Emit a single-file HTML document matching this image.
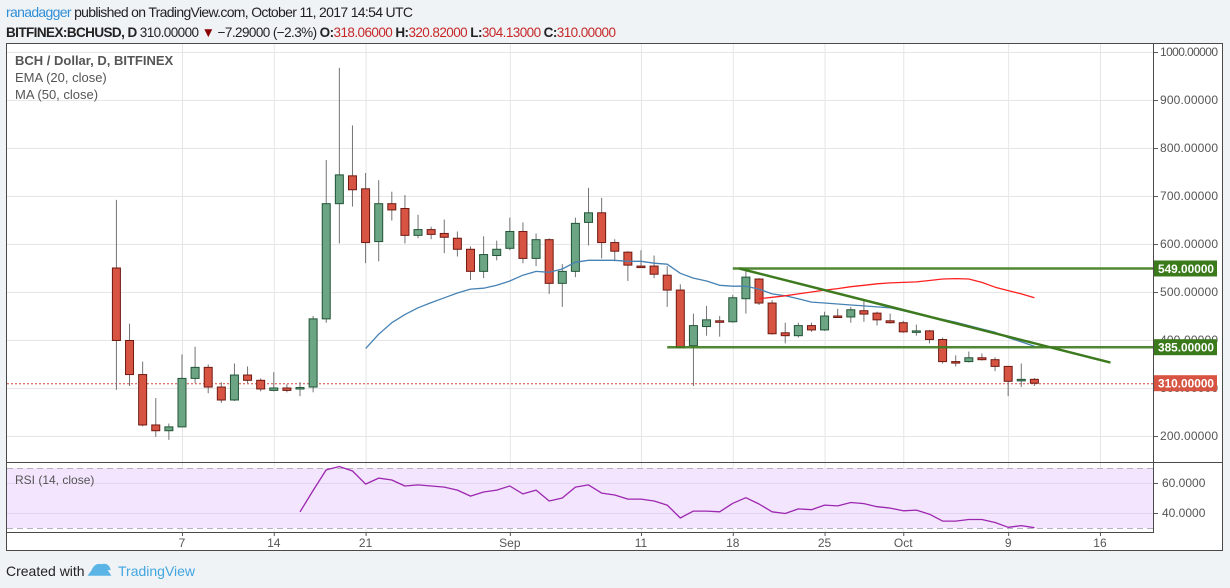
<!DOCTYPE html>
<html><head><meta charset="utf-8"><style>
html,body{margin:0;padding:0;background:#f0f3f6;width:1230px;height:588px;overflow:hidden}
svg text{font-family:"Liberation Sans",sans-serif}
</style></head><body>
<svg id="c" width="1230" height="588" xmlns="http://www.w3.org/2000/svg">
<rect x="0" y="0" width="1230" height="588" fill="#f0f3f6"/>
<text x="6" y="17" font-size="14" fill="#222" textLength="407"><tspan fill="#2f8fd8">ranadagger</tspan> published on TradingView.com, October 11, 2017 14:54 UTC</text>
<text x="6" y="37" font-size="13.5" fill="#222" textLength="610"><tspan font-weight="bold">BITFINEX:BCHUSD, D</tspan> 310.00000 <tspan fill="#8b0000">▼</tspan> −7.29000 (−2.3%) <tspan font-weight="bold">O:</tspan><tspan fill="#c62828">318.06000</tspan> <tspan font-weight="bold">H:</tspan><tspan fill="#c62828">320.82000</tspan> <tspan font-weight="bold">L:</tspan><tspan fill="#c62828">304.13000</tspan> <tspan font-weight="bold">C:</tspan><tspan fill="#c62828">310.00000</tspan></text>
<rect x="6.5" y="43.5" width="1216" height="507" fill="#fff" stroke="#4a4a4a"/>
<g id="grid"></g>
<rect x="7" y="468" width="1146" height="60" fill="#f3e5fd"/>
<g id="gridr"></g>
<g id="marks"></g>
<line x1="6" y1="462.5" x2="1223" y2="462.5" stroke="#4a4a4a"/>
<line x1="6" y1="532.5" x2="1153" y2="532.5" stroke="#4a4a4a"/>
<line x1="1153.5" y1="43" x2="1153.5" y2="533" stroke="#4a4a4a"/>
<g id="axes"></g>
<text x="15" y="65" font-size="13" fill="#555" font-weight="bold">BCH / Dollar, D, BITFINEX</text>
<text x="15" y="82" font-size="13" fill="#555">EMA (20, close)</text>
<text x="15" y="99" font-size="13" fill="#555">MA (50, close)</text>
<text x="15" y="484" font-size="12" fill="#555">RSI (14, close)</text>
<text x="6" y="576" font-size="14" fill="#222">Created with</text>
<path d="M89 575 L95 567 L100 572 L104 566 L110 575 Z M92 571 Q95 563 102 565 Q108 563 110 570" fill="#5ab4e5" stroke="#5ab4e5" stroke-width="1.5"/>
<text x="118" y="576" font-size="14" fill="#41a5e0">TradingView</text>
</svg>
<script>
const opens=[550,399,328,223,211,219,320,343,302,275,327,316,295,300,300,302,444,684,742,715,605,684,674,618,630,622,612,589,543,576,591,626,570,609,518,543,645,665,603,583,554,554,535,504,388,428,440,438,486,527,477,415,409,430,421,450,448,461,456,440,436,417,419,401,355,355,363,359,345,316,318.06];
const highs=[692,434,355,279,226,370,386,349,312,351,345,320,333,308,312,450,775,967,847,748,733,709,702,661,636,651,626,595,616,607,655,645,622,612,558,655,717,696,610,585,587,576,554,516,455,471,450,494,548,529,483,436,436,436,459,465,469,481,459,455,440,432,421,405,368,376,372,364,345,351,320.82];
const lows=[296,304,220,198,192,219,310,289,269,273,310,293,293,291,283,291,436,601,678,560,564,649,601,612,610,581,574,525,529,566,587,560,554,496,469,531,597,570,564,523,550,529,469,384,304,409,407,436,455,473,411,393,405,417,419,448,436,438,430,434,415,409,393,351,345,353,357,335,283,302,304.13];
const closes=[399,328,223,211,219,320,343,302,275,327,316,298,300,295,301,444,684,744,713,603,684,671,618,630,620,614,589,543,578,589,626,570,609,518,543,643,665,603,585,556,552,537,504,384,430,442,438,488,531,477,413,409,430,421,450,448,463,454,442,436,417,419,401,355,353,363,359,345,314,318,310];
const candleStartDay=1;
const ema20=[382,412,436,453,467,478,488,498,506,508,514,523,535,543,541,548,562,566,566,566,564,564,560,558,539,529,523,514,512,512,506,496,492,486,479,477,475,473,471,469,467,461,455,449,443,437,430,423,416,405,396,387];
const emaStartDay=20;
const ma50=[486,489,492,496,500,504,507,511,514,517,519,520,521,524,527,528,527,520,510,503,496,488];
const maStartDay=50;
const rsi=[40.7,55,68.7,71,68,59.3,63.3,62,58,58.7,58,57.3,55.3,51.3,54,55.3,58,52.7,55.3,48,50,57.3,58.7,53.3,52,49.3,49.3,48,45.3,36.7,41.3,41.3,40.8,46.5,50.2,46,40.8,39.7,42.7,42.2,45.3,44.7,47,46.3,44.2,43.3,41.5,41.9,39.2,34.6,34.6,35.7,35.7,33.7,30.5,31.6,30.2];
const rsiStartDay=15;
const priceTicks=[1000,900,800,700,600,500,400,300,200];
const rsiTicks=[60,40];
const timeTickDays=[6,13,20,31,41,48,55,61,69,76];
const timeTickLabels=["7","14","21","Sep","11","18","25","Oct","9","16"];
const supportLevels=[549,385];
const supportStartDays=[48,43];
const trendStart=[48.5,549];
const trendEnd=[76.8,353];
const lastPrice=310;

const NS="http://www.w3.org/2000/svg";
const X=d=>103.3+13.114*d;
const Y=p=>52+(1000-p)*0.48;
const R=v=>483-(v-60)*1.5;
function mk(tag,attrs,parent){const e=document.createElementNS(NS,tag);for(const k in attrs)e.setAttribute(k,attrs[k]);parent.appendChild(e);return e;}
const grid=document.getElementById('grid'),gridr=document.getElementById('gridr'),marks=document.getElementById('marks'),axes=document.getElementById('axes');

priceTicks.forEach(p=>{
  const l=mk('line',{x1:7,x2:1153,y1:Y(p)+0.5,y2:Y(p)+0.5,stroke:'#e6e6e6'},grid);
  
  
  const t=mk('line',{x1:1153,x2:1158,y1:Y(p)+0.5,y2:Y(p)+0.5,stroke:'#555'},axes);
  
  
  const tx=mk('text',{x:1160,y:Y(p)+4,'font-size':12,fill:'#555',textLength:58},axes);tx.textContent=p.toFixed(5);
  
  
});
timeTickDays.forEach((d,i)=>{
  const l=mk('line',{x1:X(d)+0.5,x2:X(d)+0.5,y1:44,y2:532,stroke:'#e6e6e6'},grid);
  
  
  const t=mk('line',{x1:X(d)+0.5,x2:X(d)+0.5,y1:532,y2:536,stroke:'#555'},axes);
  
  
  const tx=mk('text',{x:X(d),y:547,'font-size':12,fill:'#555','text-anchor':'middle'},axes);tx.textContent=timeTickLabels[i];
  
  
});
rsiTicks.forEach(v=>{
  const l=mk('line',{x1:7,x2:1153,y1:R(v)+0.5,y2:R(v)+0.5,stroke:'#e2d3ee'},gridr);
  
  
  const tx=mk('text',{x:1162,y:R(v)+4,'font-size':12,fill:'#555'},axes);tx.textContent=v.toFixed(4);
  
  
  const t=mk('line',{x1:1153,x2:1158,y1:R(v)+0.5,y2:R(v)+0.5,stroke:'#555'},axes);
  
  
});
[70,30].forEach(v=>{
  const l=mk('line',{x1:7,x2:1153,y1:R(v)+0.5,y2:R(v)+0.5,stroke:'#b8b0c0','stroke-dasharray':'6,4'},gridr);
  
  
});

const lp=mk('line',{x1:7,x2:1153,y1:Y(lastPrice)+0.5,y2:Y(lastPrice)+0.5,stroke:'#d0483a','stroke-dasharray':'2,2'},marks);



opens.forEach((o,i)=>{
  const d=candleStartDay+i,x=X(d),c=closes[i],up=c>=o;
  const w=mk('line',{x1:x,x2:x,y1:Y(highs[i]),y2:Y(lows[i]),stroke:'#737375','stroke-width':1},marks);
  
  
  const top=Y(Math.max(o,c)),bot=Y(Math.min(o,c));
  const b=mk('rect',{x:x-4,y:top,width:8,height:Math.max(bot-top,1.5),fill:up?'#6ba583':'#d75442',stroke:up?'#225437':'#6f1a12','stroke-width':1},marks);
  
  
});

function poly(arr,start,fy,color,w,name){
  const pts=arr.map((v,i)=>X(start+i).toFixed(1)+','+fy(v).toFixed(1)).join(' ');
  const p=mk('polyline',{points:pts,fill:'none',stroke:color,'stroke-width':w,'stroke-linejoin':'round'},marks);
  
  
}
poly(ema20,emaStartDay,Y,'#4682b4',1.3,'ema-20-line');
poly(ma50,maStartDay,Y,'#ff2020',1.3,'ma-50-line');
poly(rsi,rsiStartDay,R,'#9c27b0',1.3,'rsi-line');

supportLevels.forEach((p,i)=>{
  const l=mk('line',{x1:X(supportStartDays[i]),x2:1153,y1:Y(p),y2:Y(p),stroke:'#3d7a1e','stroke-width':2.5,'stroke-opacity':0.9},marks);
  
  
  const r=mk('rect',{x:1154,y:Y(p)-8,width:63,height:16,fill:'#3a7a1a'},axes);
  
  
  const t=mk('text',{x:1158,y:Y(p)+4.5,'font-size':12,fill:'#fff','font-weight':'bold',textLength:56,lengthAdjust:'spacingAndGlyphs'},axes);t.textContent=p.toFixed(5);
  
  
});
const tl=mk('line',{x1:X(trendStart[0]),y1:Y(trendStart[1]),x2:X(trendEnd[0]),y2:Y(trendEnd[1]),stroke:'#3d7a1e','stroke-width':2.5},marks);



const lr=mk('rect',{x:1154,y:Y(lastPrice)-8,width:63,height:16,fill:'#d75442'},axes);


const lt=mk('text',{x:1158,y:Y(lastPrice)+4.5,'font-size':12,fill:'#fff','font-weight':'bold',textLength:56,lengthAdjust:'spacingAndGlyphs'},axes);lt.textContent=lastPrice.toFixed(5);


</script>
</body></html>
